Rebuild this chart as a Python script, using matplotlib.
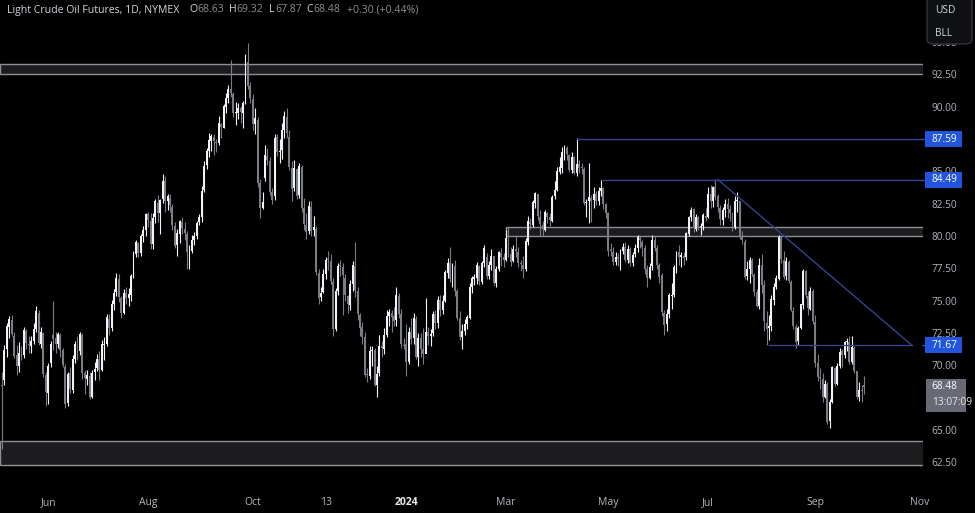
import matplotlib
matplotlib.use("Agg")
import matplotlib.pyplot as plt
from matplotlib.patches import Rectangle, FancyBboxPatch
import numpy as np

plt.rcParams["font.family"] = ["Open Sans", "DejaVu Sans"]

# daily bars, 4 May 2023 .. 1 Oct 2024 (one row per month)
opens = [
    68.60, 69.00, 71.40, 73.10, 73.60, 72.40, 70.90, 70.10, 71.20, 70.90, 72.80, 71.70, 71.60, 72.00, 72.90, 74.20, 71.80, 72.60, 69.40,
    68.00, 70.30, 72.50, 72.20, 71.80, 72.50, 71.30, 70.00, 67.20, 69.50, 68.20, 70.60, 71.60, 71.20, 72.50, 69.50, 69.10, 69.30, 67.70, 69.60, 69.90,
    70.60, 69.80, 71.70, 71.80, 73.70, 73.00, 74.90, 75.80, 76.80, 75.30, 74.20, 75.70, 75.30, 75.60, 77.00, 78.70, 79.60, 78.80, 80.10, 80.60,
    81.80, 81.30, 79.50, 81.60, 82.70, 81.90, 83.00, 84.40, 82.80, 83.10, 82.40, 80.90, 79.40, 80.30, 81.20, 80.70, 80.30, 78.90, 79.00, 79.80, 80.10, 81.20, 81.60,
    83.70, 85.60, 86.70, 87.50, 87.80, 87.40, 87.30, 88.80, 88.50, 90.10, 90.80, 91.50, 91.10, 89.60, 89.60, 90.00, 89.60, 90.40, 93.60, 91.70,
    90.70, 88.80, 89.10, 84.20, 82.30, 84.60, 86.30, 85.90, 83.50, 83.20, 87.80, 86.60, 86.80, 88.30, 89.30, 87.80, 85.40, 83.80, 85.30, 83.30, 85.50, 82.30,
    81.00, 80.50, 82.40, 80.60, 80.70, 77.30, 75.40, 75.80, 77.20, 78.30, 78.20, 76.60, 72.90, 75.90, 77.80, 77.70, 76.90, 75.50, 74.80, 76.40, 77.80,
    75.90, 74.00, 73.10, 72.30, 69.40, 69.30, 71.20, 71.30, 68.60, 69.50, 71.60, 71.40, 72.50, 73.90, 74.20, 73.90, 73.60, 75.50, 74.10, 71.70,
    71.80, 70.40, 72.70, 72.20, 73.70, 70.80, 72.20, 71.40, 71.00, 72.70, 72.40, 72.60, 74.10, 73.40, 75.20, 74.40, 75.10, 77.30, 78.00, 76.80, 77.80,
    75.90, 73.80, 72.30, 72.80, 73.30, 73.80, 76.20, 76.80, 76.90, 77.80, 76.60, 78.00, 78.50, 77.00, 77.90, 78.60, 76.50, 77.60, 78.80, 78.50,
    78.30, 80.00, 78.70, 78.20, 79.10, 78.90, 78.00, 77.90, 77.60, 79.70, 81.20, 81.00, 82.70, 83.40, 81.60, 81.00, 80.60, 81.90, 81.60, 81.30,
    83.20, 83.70, 85.10, 85.40, 86.60, 86.90, 86.40, 85.20, 86.20, 85.00, 85.70, 85.40, 85.30, 82.70, 82.80, 83.10, 82.90, 83.40, 82.80, 83.60, 83.80, 82.60,
    81.90, 79.10, 78.90, 78.10, 78.50, 78.30, 79.00, 79.30, 78.30, 79.10, 78.00, 78.70, 79.20, 80.00, 79.70, 79.20, 77.60, 76.90, 77.80, 79.80, 79.20, 77.90,
    77.10, 74.20, 73.30, 74.10, 75.50, 75.60, 77.70, 78.90, 78.50, 78.60, 78.50, 80.30, 81.60, 82.20, 80.70, 81.60, 80.80, 80.90, 81.70,
    81.60, 83.40, 82.80, 83.90, 83.20, 82.30, 81.40, 82.10, 82.60, 82.20, 81.90, 80.80, 82.80, 82.80, 80.10, 79.70, 77.00, 77.60, 78.30, 77.10, 75.80, 74.70,
    77.90, 76.30, 73.40, 73.00, 73.20, 75.20, 76.20, 76.80, 80.00, 78.30, 77.00, 78.10, 76.60, 74.30, 73.10, 72.00, 73.00, 74.80, 77.40, 75.50, 74.50, 75.90,
    73.50, 70.30, 69.20, 69.10, 67.70, 68.70, 65.80, 67.30, 69.90, 68.70, 70.10, 71.20, 70.90, 71.90, 71.90, 70.40, 71.50, 69.70, 67.70, 68.20, 68.63,
]
highs = [
    69.60, 71.70, 73.40, 73.90, 74.00, 72.70, 71.70, 71.90, 71.60, 73.10, 72.90, 72.40, 72.40, 73.40, 74.70, 74.40, 73.10, 72.70, 69.60,
    70.30, 72.00, 75.06, 72.70, 72.70, 72.60, 71.50, 70.20, 69.60, 70.00, 70.90, 72.00, 72.40, 72.70, 72.60, 69.80, 69.80, 69.60, 69.80, 70.40, 71.00,
    71.20, 72.10, 72.30, 74.10, 74.10, 75.20, 76.00, 77.30, 77.20, 75.50, 76.00, 76.20, 76.10, 77.20, 79.00, 79.80, 79.70, 80.30, 80.90, 81.90,
    82.00, 81.90, 81.90, 83.00, 83.30, 83.00, 84.90, 84.80, 83.40, 83.40, 82.60, 81.20, 80.70, 81.40, 81.60, 81.20, 80.50, 79.40, 80.20, 80.40, 81.30, 81.80, 84.00,
    85.90, 86.90, 88.10, 88.00, 88.00, 87.60, 89.40, 88.90, 90.30, 91.20, 91.80, 93.70, 91.30, 90.50, 90.40, 90.20, 90.60, 94.20, 95.03, 92.00,
    91.10, 90.00, 89.30, 84.50, 83.50, 87.20, 86.90, 86.20, 83.80, 88.00, 88.00, 87.60, 88.90, 89.80, 90.00, 88.30, 85.90, 86.00, 85.40, 85.80, 85.60, 83.10,
    81.90, 82.80, 82.80, 81.70, 80.90, 77.60, 76.20, 77.60, 78.50, 79.00, 78.70, 76.90, 76.10, 78.00, 78.30, 78.00, 77.20, 75.60, 76.70, 78.20, 79.70,
    76.20, 74.20, 73.50, 72.70, 69.90, 71.60, 71.60, 71.50, 70.10, 72.50, 72.00, 73.00, 74.40, 74.50, 74.40, 74.60, 76.20, 75.70, 74.50, 72.20,
    73.30, 73.10, 73.80, 74.20, 73.90, 72.60, 72.60, 73.00, 75.30, 73.10, 72.90, 74.30, 74.40, 75.50, 75.60, 75.60, 77.50, 78.40, 79.30, 78.00, 78.30,
    76.00, 74.30, 73.30, 73.70, 74.00, 76.50, 77.00, 77.20, 78.10, 77.90, 78.20, 79.40, 78.80, 78.20, 79.10, 78.60, 77.80, 79.00, 79.20, 78.80,
    80.60, 80.80, 79.30, 79.40, 80.20, 79.30, 78.30, 78.60, 80.00, 81.70, 81.50, 82.90, 83.50, 83.40, 82.10, 81.30, 82.10, 82.00, 81.90, 83.30,
    84.40, 85.50, 86.20, 87.00, 87.20, 87.10, 86.50, 86.60, 86.30, 87.67, 86.00, 85.80, 85.50, 83.00, 85.80, 83.30, 83.90, 83.60, 83.90, 84.49, 83.90, 82.70,
    82.00, 79.60, 79.30, 78.90, 78.80, 79.10, 79.60, 79.70, 79.40, 79.30, 78.90, 79.50, 80.20, 80.10, 79.80, 79.40, 77.90, 78.00, 80.20, 80.10, 79.40, 78.00,
    77.30, 74.40, 74.50, 75.70, 76.50, 77.90, 79.00, 79.40, 78.90, 78.90, 80.40, 81.70, 82.40, 82.30, 81.80, 81.70, 81.10, 81.90, 82.30,
    83.90, 84.10, 84.00, 84.52, 83.40, 82.50, 82.40, 83.00, 83.10, 82.50, 81.90, 83.20, 83.50, 82.80, 80.50, 79.90, 78.20, 78.50, 78.40, 77.30, 76.00, 78.40,
    78.70, 76.70, 74.30, 74.00, 75.60, 76.50, 77.10, 80.20, 80.10, 79.00, 78.50, 78.30, 76.70, 74.60, 73.30, 73.20, 74.90, 77.60, 77.50, 75.90, 76.20, 76.00,
    74.00, 71.00, 69.90, 69.50, 69.00, 68.80, 67.50, 70.10, 70.00, 70.30, 71.50, 71.40, 72.00, 72.20, 72.40, 72.40, 71.60, 69.70, 68.80, 68.60, 69.32,
]
lows = [
    63.64, 68.60, 70.80, 72.20, 72.40, 70.70, 69.40, 69.60, 70.50, 70.70, 71.40, 71.10, 71.10, 71.80, 72.70, 71.70, 71.50, 69.20, 67.00,
    67.10, 70.00, 71.30, 71.10, 71.50, 70.80, 70.00, 66.80, 67.00, 68.00, 68.00, 70.30, 70.50, 70.90, 69.10, 67.90, 68.60, 67.50, 67.60, 69.00, 69.70,
    69.00, 69.70, 70.50, 71.60, 72.50, 72.80, 74.40, 75.50, 75.00, 73.80, 74.10, 74.90, 74.70, 75.10, 76.90, 78.50, 78.50, 78.60, 79.70, 80.10,
    80.80, 79.10, 79.10, 81.10, 81.20, 80.30, 82.70, 82.00, 82.10, 82.00, 80.60, 79.20, 78.60, 79.60, 80.30, 79.80, 77.60, 77.60, 78.80, 79.40, 79.90, 81.00, 81.20,
    83.50, 85.30, 86.20, 86.70, 86.40, 86.60, 87.20, 87.70, 88.50, 89.60, 90.40, 90.90, 89.30, 88.70, 89.20, 88.90, 88.50, 90.30, 91.50, 90.40,
    88.30, 88.00, 83.90, 81.50, 82.20, 84.40, 85.60, 83.30, 82.60, 82.90, 86.30, 85.80, 86.10, 87.70, 87.70, 85.20, 82.80, 83.60, 83.00, 83.10, 82.00, 80.60,
    79.90, 80.30, 80.10, 80.10, 77.10, 74.90, 75.10, 75.70, 76.80, 77.50, 76.40, 72.40, 72.80, 75.60, 77.00, 74.00, 75.10, 74.20, 74.40, 75.90, 75.40,
    73.60, 72.40, 71.80, 69.20, 68.80, 69.10, 70.10, 68.50, 67.70, 69.30, 70.80, 71.00, 72.30, 73.20, 72.70, 73.20, 73.20, 73.80, 71.50, 71.40,
    69.30, 70.20, 71.80, 71.80, 70.60, 70.10, 70.80, 70.20, 71.10, 71.70, 71.60, 72.40, 72.90, 73.00, 73.90, 74.10, 75.00, 76.90, 76.60, 76.20, 75.50,
    73.60, 72.10, 71.40, 72.50, 72.90, 73.70, 75.70, 76.30, 76.40, 76.30, 76.40, 77.70, 76.80, 76.80, 77.50, 76.30, 76.20, 77.40, 77.80, 77.70,
    78.20, 78.50, 77.80, 78.10, 78.50, 77.70, 77.40, 76.90, 77.40, 79.40, 80.70, 80.80, 82.30, 81.40, 80.20, 80.10, 80.50, 81.10, 80.90, 81.20,
    83.00, 83.60, 84.90, 85.00, 86.00, 86.00, 85.10, 85.00, 84.90, 84.80, 85.00, 84.90, 82.50, 81.60, 81.10, 81.20, 82.30, 82.50, 82.50, 83.20, 82.20, 81.50,
    78.60, 78.60, 77.90, 77.90, 77.80, 77.50, 78.70, 78.10, 78.00, 77.80, 77.80, 78.50, 78.90, 79.20, 78.60, 77.20, 76.20, 76.80, 77.50, 79.00, 77.60, 76.50,
    73.90, 72.50, 72.80, 73.80, 74.50, 75.40, 77.30, 77.90, 77.70, 77.90, 78.30, 80.10, 81.30, 80.40, 80.50, 80.60, 80.20, 80.60, 81.30,
    81.50, 82.30, 82.40, 82.90, 82.00, 81.00, 81.00, 81.60, 81.50, 81.30, 80.50, 80.70, 82.00, 79.90, 79.50, 76.80, 76.70, 76.50, 77.00, 75.50, 74.60, 74.50,
    75.70, 72.80, 71.67, 72.10, 72.80, 74.80, 76.00, 76.70, 78.00, 76.80, 76.70, 76.50, 74.30, 72.90, 71.50, 71.70, 72.90, 74.50, 75.30, 74.00, 74.40, 73.30,
    70.00, 68.90, 68.30, 67.30, 67.60, 65.60, 65.30, 67.20, 68.50, 68.60, 69.90, 70.00, 70.70, 71.20, 70.20, 70.20, 69.50, 67.50, 67.40, 67.30, 67.87,
]
closes = [
    68.56, 71.34, 73.16, 73.71, 72.56, 70.87, 70.04, 71.11, 70.86, 72.83, 71.86, 71.69, 71.99, 72.91, 74.34, 71.83, 72.67, 69.46, 68.09,
    70.10, 71.74, 72.15, 71.74, 72.53, 71.29, 70.17, 67.12, 69.42, 68.27, 70.62, 71.78, 71.19, 72.53, 69.51, 69.16, 69.37, 67.70, 69.56, 69.86, 70.64,
    69.79, 71.79, 71.80, 73.86, 72.99, 74.83, 75.75, 76.89, 75.42, 74.15, 75.75, 75.35, 75.63, 77.07, 78.74, 79.63, 78.78, 80.09, 80.58, 81.80,
    81.37, 79.49, 81.55, 82.82, 81.94, 82.92, 84.40, 82.82, 83.19, 82.51, 80.99, 79.38, 80.39, 81.25, 80.72, 80.35, 78.89, 79.05, 79.83, 80.10, 81.16, 81.63, 83.63,
    85.55, 86.69, 87.54, 87.87, 87.51, 87.29, 88.84, 88.52, 90.16, 90.77, 91.48, 91.20, 89.66, 89.63, 90.03, 89.68, 90.39, 93.68, 91.71, 90.79,
    88.82, 89.23, 84.22, 82.31, 82.79, 86.38, 85.97, 83.49, 82.91, 87.69, 86.66, 86.66, 88.32, 89.37, 88.08, 85.49, 83.74, 85.39, 83.21, 85.54, 82.31, 81.02,
    80.44, 82.46, 80.51, 80.82, 77.37, 75.33, 75.74, 77.17, 78.26, 78.26, 76.66, 72.90, 75.89, 77.83, 77.77, 77.10, 75.54, 74.86, 76.41, 77.86, 75.96,
    74.07, 73.04, 72.32, 69.38, 69.34, 71.23, 71.32, 68.61, 69.47, 71.58, 71.43, 72.47, 73.94, 74.22, 73.89, 73.56, 75.57, 74.11, 71.77, 71.65,
    70.38, 72.70, 72.19, 73.81, 70.77, 72.24, 71.37, 71.02, 72.68, 72.40, 72.56, 74.08, 73.41, 75.19, 74.37, 75.09, 77.36, 78.01, 76.78, 77.82, 75.85,
    73.82, 72.28, 72.78, 73.31, 73.86, 76.22, 76.84, 76.92, 77.87, 76.64, 78.03, 79.19, 77.04, 77.91, 78.61, 76.49, 77.58, 78.87, 78.54, 78.26,
    79.97, 78.74, 78.15, 79.13, 78.93, 78.01, 77.93, 77.56, 79.72, 81.26, 81.04, 82.72, 83.47, 81.68, 81.07, 80.63, 81.95, 81.62, 81.35, 83.17,
    83.71, 85.15, 85.43, 86.59, 86.91, 86.43, 85.23, 86.21, 85.02, 85.66, 85.41, 85.36, 82.69, 82.73, 83.14, 82.85, 83.36, 82.81, 83.57, 83.85, 82.63, 81.93,
    79.00, 78.95, 78.11, 78.48, 78.38, 78.99, 79.26, 78.26, 79.12, 78.02, 78.63, 79.23, 80.06, 79.80, 79.26, 77.57, 76.87, 77.72, 79.83, 79.23, 77.91, 76.99,
    74.22, 73.25, 74.07, 75.55, 75.53, 77.74, 78.90, 78.50, 78.62, 78.45, 80.33, 81.57, 82.17, 80.73, 81.63, 80.83, 80.90, 81.74, 81.54,
    83.38, 82.81, 83.88, 83.16, 82.33, 81.41, 82.10, 82.62, 82.21, 81.91, 80.76, 82.85, 82.82, 80.13, 79.78, 76.96, 77.59, 78.28, 77.16, 75.81, 74.73, 77.91,
    76.31, 73.52, 72.94, 73.20, 75.23, 76.19, 76.84, 80.06, 78.35, 76.98, 78.16, 76.65, 74.37, 73.17, 71.93, 73.01, 74.83, 77.42, 75.53, 74.52, 75.91, 73.55,
    70.34, 69.20, 69.15, 67.67, 68.71, 65.75, 67.31, 69.97, 68.65, 70.09, 71.19, 70.91, 71.95, 71.92, 70.37, 71.56, 69.69, 67.67, 68.18, 68.17, 68.48,
]

# bar index of the first session shown under each time-axis label
tick_bars = [19, 60, 103, 133, 166, 207, 249, 290, 334, 377]
tick_labels = ["Jun", "Aug", "Oct", "13", "2024", "Mar", "May", "Jul", "Sep", "Nov"]

# 67.50 is hidden behind the last-price tag in the reference
price_ticks = [62.5, 65.0, 70.0, 72.5, 75.0, 77.5, 80.0, 82.5, 85.0, 87.5, 90.0, 92.5, 95.0]

# drawn levels: (low, high, first bar) zones, (price, first bar, last bar) lines, trend line ends
zones = [(92.68, 93.40, -1), (80.13, 80.85, 207), (62.40, 64.30, -1)]
levels = [(87.59, 236, None), (84.49, 247, None), (71.67, 315, 373.7)]
trend = [(294, 84.49), (373.7, 71.67)]

last_o, last_h, last_l, last_c, change, change_pct = 68.63, 69.32, 67.87, 68.48, 0.30, 0.44

UP = "#f2f3f6"
DOWN = "#7a7d86"
TXT = "#b2b5be"
BLUE_LINE = "#36438f"
BLUE_BOX = "#2155dd"

W, H = 975, 513
bar_px, bar0_px = 2.435, 2.0
axes_right, axes_bottom = 923, 483


def px_price(py):
    return 92.5 - (py - 76) / 12.93


fig = plt.figure(figsize=(W / 100, H / 100), dpi=100, facecolor="black")

ax = fig.add_axes([0, (H - axes_bottom) / H, axes_right / W, axes_bottom / H])
ax.set_facecolor("black")
ax.set_xlim(-bar0_px / bar_px, (axes_right - bar0_px) / bar_px)
ax.set_ylim(px_price(axes_bottom), px_price(0))
for s in ax.spines.values():
    s.set_visible(False)

o = np.array(opens)
hi = np.array(highs)
lo = np.array(lows)
c = np.array(closes)
idx = np.arange(len(c))
cols = np.where(c >= o, UP, DOWN)

x_end = ax.get_xlim()[1]
for z_lo, z_hi, z_start in zones:
    x0 = max(z_start, ax.get_xlim()[0] - 1)
    ax.add_patch(Rectangle((x0, z_lo), x_end - x0 + 2, z_hi - z_lo,
                           facecolor="#1c1c1e", edgecolor="#8d8f96", linewidth=1.0, zorder=1))

ax.vlines(idx, lo, hi, colors=cols, linewidth=0.8, zorder=3)
ax.bar(idx, np.maximum(np.abs(c - o), 0.08), bottom=np.minimum(o, c), width=0.8,
       color=cols, linewidth=0, zorder=4)

for price, start, stop in levels:
    ax.plot([start, stop if stop else x_end], [price, price], color=BLUE_LINE, lw=1.0, zorder=5)
ax.plot([trend[0][0], trend[1][0]], [trend[0][1], trend[1][1]], color=BLUE_LINE, lw=1.0, zorder=5)

ax.set_xticks(tick_bars)
ax.set_xticklabels(tick_labels)
ax.tick_params(axis="x", length=0, pad=10, labelsize=7.5, labelcolor=TXT)
ax.tick_params(axis="y", left=False, labelleft=False)
for lab in ax.get_xticklabels():
    if lab.get_text() == "2024":
        lab.set_fontweight("bold")
        lab.set_color("#e8e9ed")

# price scale
pax = fig.add_axes([axes_right / W, 0, (W - axes_right) / W, 1], zorder=2)
pax.set_facecolor("black")
pax.set_ylim(px_price(H), px_price(0))
pax.set_xlim(0, 1)
pax.axis("off")
pax.patch.set_visible(True)
ytr = pax.get_yaxis_transform()
for p in price_ticks:
    pax.text(0.17, p, f"{p:.2f}", transform=ytr, ha="left", va="center",
             fontsize=7.3, color=TXT)

box_h = 16 / 12.93
for price, start, stop in levels:
    pax.plot([-0.02, 0.06], [price, price], color=BLUE_LINE, lw=1.0, transform=ytr, clip_on=False)
    pax.add_patch(Rectangle((0.04, price - box_h / 2), 0.71, box_h, transform=ytr,
                            facecolor=BLUE_BOX, edgecolor="none", zorder=5))
    pax.text(0.17, price, f"{price:.2f}", transform=ytr, ha="left", va="center",
             fontsize=7.3, color="white", zorder=6)

pax.add_patch(Rectangle((0.06, last_c - 1.95), 0.76, 2.5, transform=ytr,
                        facecolor="#676a75", edgecolor="none", zorder=5))
pax.text(0.17, last_c, f"{last_c:.2f}", transform=ytr, ha="left", va="center",
         fontsize=7.3, color="white", zorder=6)
pax.text(0.17, last_c - 1.2, "13:07:09", transform=ytr, ha="left", va="center",
         fontsize=7.3, color="#e8e9ed", zorder=6)

# currency box
fig.patches.append(FancyBboxPatch((927 / W, 1 - 44 / H), 45 / W, 52 / H,
                                  boxstyle="round,pad=0,rounding_size=0.008",
                                  transform=fig.transFigure, facecolor="#0f1014",
                                  edgecolor="#3b3e47", linewidth=0.8, zorder=5))
fig.text(935 / W, 1 - 11 / H, "USD", fontsize=7.3, color="#d1d4dc", va="center", zorder=6)
fig.text(935 / W, 1 - 33 / H, "BLL", fontsize=7.3, color="#d1d4dc", va="center", zorder=6)

# legend line at top left
ty = 1 - 10 / H
fig.text(7 / W, ty, "Light Crude Oil Futures, 1D, NYMEX", fontsize=7.6, color="#d1d4dc", va="center")
parts = [(189, "O", "#d1d4dc"), (197, f"{last_o:.2f}", "#8a8d96"),
         (229, "H", "#d1d4dc"), (236, f"{last_h:.2f}", "#8a8d96"),
         (269, "L", "#d1d4dc"), (275, f"{last_l:.2f}", "#8a8d96"),
         (306, "C", "#d1d4dc"), (313, f"{last_c:.2f}", "#8a8d96"),
         (347, f"+{change:.2f} (+{change_pct:.2f}%)", "#8a8d96")]
for px, s, col in parts:
    fig.text(px / W, ty, s, fontsize=7.6, color=col, va="center")

fig.savefig("out.png", dpi=100, facecolor="black")
